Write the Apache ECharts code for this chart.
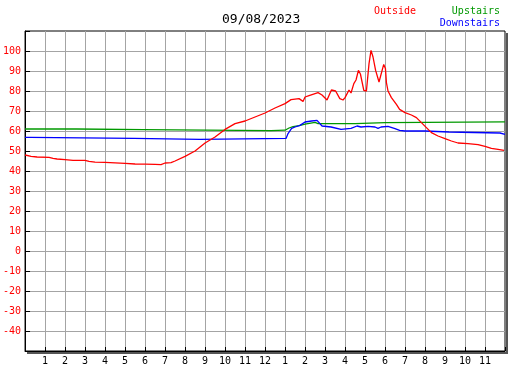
<!DOCTYPE html>
<html>
<head>
<meta charset="utf-8">
<script src="https://cdn.jsdelivr.net/npm/echarts@6/dist/echarts.min.js"></script>
<style>
  html, body { margin: 0; padding: 0; background: #fff; }
  #main { width: 527px; height: 370px; }
</style>
</head>
<body>
<div id="main"></div>
<script>
// readings, [hour of day, degrees]
var outside = [
    [0, 48], [0.3, 47.3], [0.6, 47], [1.2, 46.8], [1.4, 46.3], [1.6, 46], [2.0, 45.7],
    [2.4, 45.3], [3.0, 45.3], [3.2, 44.8], [3.5, 44.4], [4.0, 44.3], [4.5, 44.1],
    [5.0, 43.8], [5.5, 43.5], [6.0, 43.4], [6.5, 43.3], [6.8, 43.2], [7.0, 44.0],
    [7.3, 44.2], [7.5, 45], [8.0, 47.3], [8.5, 50], [9.0, 54], [9.5, 57], [10.0, 60.8],
    [10.5, 63.7], [11.0, 65], [11.5, 67], [12.0, 69], [12.5, 71.5], [13.0, 73.7],
    [13.3, 75.7], [13.7, 76.2], [13.9, 74.8], [14.0, 77], [14.2, 77.7], [14.65, 79.2],
    [14.85, 78], [15.1, 75.5], [15.32, 80.5], [15.53, 80], [15.74, 76.2], [15.9, 75.5],
    [16.0, 76.7], [16.2, 80.5], [16.3, 79], [16.44, 83.7], [16.55, 85.5], [16.67, 90.3],
    [16.77, 88.5], [16.94, 80.3], [17.07, 80], [17.2, 93.7], [17.3, 100.3], [17.4, 97],
    [17.53, 90.3], [17.7, 84.5], [17.8, 83.5], [17.935, 93.3], [18.02, 91.3], [18.07, 84.2],
    [18.15, 80], [18.32, 76.7], [18.57, 73.3], [18.73, 70.8], [19.0, 69.2], [19.32, 68],
    [19.57, 66.7], [19.82, 64.2], [20.07, 61.7], [20.32, 59.2], [20.65, 57.5], [21.0, 56.2],
    [21.32, 55], [21.65, 54], [22.15, 53.7], [22.65, 53.2], [23.0, 52.3], [23.32, 51.3],
    [23.65, 50.8], [23.95, 50.3]
];

var upstairsHours = [0, 2.55, 2.6, 5.9, 6.0, 12.3, 13.0, 13.2, 13.4, 13.7, 14.0, 14.5, 14.65, 16.5, 16.55, 18.0, 18.05, 24];
var upstairsTemps = [61, 61, 60.7, 60.7, 60.2, 60.2, 60.4, 61.5, 62.2, 62.7, 63.4, 64.3, 63.7, 63.7, 64.2, 64.2, 64.6, 64.6];

var downstairsHours = [0, 0.25, 0.3, 5.45, 5.5, 8.75, 8.8, 13.05, 13.15, 13.33, 13.5, 13.75, 14.0, 14.33, 14.6, 14.7, 14.85, 15.3, 15.8, 16.3,
    16.6, 16.8, 17.15, 17.5, 17.65, 17.8, 18.15, 18.25, 18.5, 18.73, 19.0, 20.0, 20.05, 21.2, 21.25, 23.75, 23.85, 24];
var downstairsTemps = [56.8, 56.8, 56.3, 56.3, 55.8, 55.8, 56.3, 56.3, 58.7, 61.3, 62, 62.8, 64.5, 65, 65.3, 64.5, 62.5, 62, 60.8, 61.3,
    62.5, 62, 62.3, 62, 61.3, 62, 62.3, 62.3, 61.2, 60.3, 60, 60, 59.5, 59.5, 59, 59, 58.3, 58.3];

var chartDate = '09/08/2023';

function zip(xs, ys) {
    return xs.map(function (x, i) { return [x, ys[i]]; });
}

var mono = 'DejaVu Sans Mono';

var myChart = echarts.init(document.getElementById('main'));

var option = {
    animation: false,
    backgroundColor: '#fff',
    textStyle: { fontFamily: mono },
    title: {
        text: chartDate,
        left: 222,
        top: 13,
        padding: 0,
        textStyle: { fontFamily: mono, fontSize: 13, fontWeight: 'normal', color: '#000' }
    },
    legend: [
        {
            data: [{ name: 'Outside', textStyle: { color: '#ff0000' } }],
            icon: 'none', itemWidth: 0, itemHeight: 10, padding: 0, selectedMode: false,
            left: 369, top: 6,
            textStyle: { fontFamily: mono, fontSize: 10, padding: 0 }
        },
        {
            data: [{ name: 'Upstairs', textStyle: { color: '#009900' } }],
            icon: 'none', itemWidth: 0, itemHeight: 10, padding: 0, selectedMode: false,
            right: 27, top: 6,
            textStyle: { fontFamily: mono, fontSize: 10, padding: 0 }
        },
        {
            data: [{ name: 'Downstairs', textStyle: { color: '#0000ff' } }],
            icon: 'none', itemWidth: 0, itemHeight: 10, padding: 0, selectedMode: false,
            right: 27, top: 18,
            textStyle: { fontFamily: mono, fontSize: 10, padding: 0 }
        }
    ],
    grid: {
        left: 25,
        top: 31,
        width: 480,
        height: 320,
        show: true,
        borderColor: '#000',
        borderWidth: 1,
        backgroundColor: '#fff'
    },
    // drop shadow along the right and bottom of the frame
    graphic: [
        { type: 'rect', shape: { x: 506, y: 33, width: 2, height: 320 }, style: { fill: '#555' }, silent: true },
        { type: 'rect', shape: { x: 27, y: 352, width: 481, height: 2 }, style: { fill: '#555' }, silent: true }
    ],
    xAxis: {
        type: 'value',
        min: 0,
        max: 24,
        interval: 1,
        axisLine: { show: true, onZero: false, lineStyle: { color: '#000', width: 1 } },
        axisTick: { show: true, inside: true, length: 4, lineStyle: { color: '#000' } },
        axisLabel: {
            color: '#000',
            fontFamily: mono,
            fontSize: 10,
            margin: 5,
            formatter: function (v) {
                if (v <= 0 || v >= 24) return '';
                var h = v % 12;
                return h === 0 ? '12' : String(h);
            }
        },
        splitLine: { show: true, showMinLine: false, showMaxLine: false, lineStyle: { color: '#a4a4a4', width: 1 } }
    },
    yAxis: {
        type: 'value',
        min: -50,
        max: 110,
        interval: 10,
        axisLine: { show: true, onZero: false, lineStyle: { color: '#000', width: 1 } },
        axisTick: { show: true, inside: true, length: 5, lineStyle: { color: '#000' } },
        axisLabel: {
            color: '#ff0000',
            fontFamily: mono,
            fontSize: 10,
            margin: 4,
            formatter: function (v) {
                if (v <= -50 || v >= 110) return '';
                return String(v);
            }
        },
        splitLine: { show: true, showMinLine: false, showMaxLine: false, lineStyle: { color: '#a4a4a4', width: 1 } }
    },
    series: [
        {
            name: 'Outside',
            type: 'line',
            data: outside,
            showSymbol: false,
            lineStyle: { color: '#ff0000', width: 1.3 },
            itemStyle: { color: '#ff0000' },
            z: 5
        },
        {
            name: 'Upstairs',
            type: 'line',
            data: zip(upstairsHours, upstairsTemps),
            showSymbol: false,
            lineStyle: { color: '#009900', width: 1.3 },
            itemStyle: { color: '#009900' },
            z: 3
        },
        {
            name: 'Downstairs',
            type: 'line',
            data: zip(downstairsHours, downstairsTemps),
            showSymbol: false,
            lineStyle: { color: '#0000ff', width: 1.3 },
            itemStyle: { color: '#0000ff' },
            z: 4
        }
    ]
};

myChart.setOption(option);
</script>
</body>
</html>
